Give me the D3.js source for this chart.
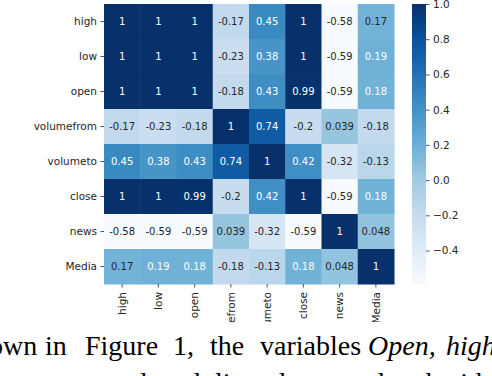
<!DOCTYPE html>
<html>
<head>
<meta charset="utf-8">
<script src="https://cdn.jsdelivr.net/npm/d3@7"></script>
<style>
  html, body { margin: 0; padding: 0; background: #fff; }
  svg { display: block; }
</style>
</head>
<body>
<svg id="chart" width="492" height="376"></svg>
<script>
// ---- data ----
const labels = ["high", "low", "open", "volumefrom", "volumeto", "close", "news", "Media"];
const rowHigh       = [1, 1, 1, -0.17, 0.45, 1, -0.58, 0.17];
const rowLow        = [1, 1, 1, -0.23, 0.38, 1, -0.59, 0.19];
const rowOpen       = [1, 1, 1, -0.18, 0.43, 0.99, -0.59, 0.18];
const rowVolumefrom = [-0.17, -0.23, -0.18, 1, 0.74, -0.2, 0.039, -0.18];
const rowVolumeto   = [0.45, 0.38, 0.43, 0.74, 1, 0.42, -0.32, -0.13];
const rowClose      = [1, 1, 0.99, -0.2, 0.42, 1, -0.59, 0.18];
const rowNews       = [-0.58, -0.59, -0.59, 0.039, -0.32, -0.59, 1, 0.048];
const rowMedia      = [0.17, 0.19, 0.18, -0.18, -0.13, 0.18, 0.048, 1];
const matrix = [rowHigh, rowLow, rowOpen, rowVolumefrom, rowVolumeto, rowClose, rowNews, rowMedia];
const colorbarTicks = [-0.4, -0.2, 0.0, 0.2, 0.4, 0.6, 0.8, 1.0];
const vmin = -0.59, vmax = 1;

// matplotlib "Blues" (ColorBrewer 9-class, linear segments)
const bluesStops = ["#f7fbff", "#deebf7", "#c6dbef", "#9ecae1", "#6baed6", "#4292c6", "#2171b5", "#08519c", "#08306b"];

// ---- setup ----
const svg = d3.select("#chart");
const font = "'DejaVu Sans', sans-serif";
const x = d3.scaleBand().domain(labels).range([104, 394]).padding(0);
const y = d3.scaleBand().domain(labels).range([4, 284]).padding(0);

const norm = d3.scaleLinear().domain([vmin, vmax]).range([0, 1]).clamp(true);
const cmap = d3.scaleLinear()
  .domain(bluesStops.map((_, i) => i / (bluesStops.length - 1)))
  .range(bluesStops)
  .interpolate(d3.interpolateRgb);
const color = v => cmap(norm(v));

function textColor(c) {
  const rgb = d3.rgb(c);
  const lin = [rgb.r, rgb.g, rgb.b].map(v => {
    v /= 255;
    return v <= 0.03928 ? v / 12.92 : Math.pow((v + 0.055) / 1.055, 2.4);
  });
  const lum = 0.2126 * lin[0] + 0.7152 * lin[1] + 0.0722 * lin[2];
  return lum > 0.408 ? "#262626" : "#ffffff";
}

const cells = [];
matrix.forEach((row, i) => row.forEach((v, j) => cells.push({ r: labels[i], c: labels[j], v })));

const defs = svg.append("defs");
defs.append("clipPath").attr("id", "chartClip")
  .append("rect").attr("x", 0).attr("y", 0).attr("width", 492).attr("height", 322);

const g = svg.append("g").attr("clip-path", "url(#chartClip)");

g.selectAll("rect.cell").data(cells).join("rect")
  .attr("class", "cell")
  .attr("x", d => x(d.c))
  .attr("y", d => y(d.r))
  .attr("width", x.bandwidth() + 0.5)
  .attr("height", y.bandwidth() + 0.5)
  .attr("fill", d => color(d.v));

const fmt = v => d3.format(".2~g")(v).replace("\u2212", "-");

g.selectAll("text.ann").data(cells).join("text")
  .attr("class", "ann")
  .attr("x", d => x(d.c) + x.bandwidth() / 2)
  .attr("y", d => y(d.r) + y.bandwidth() / 2)
  .attr("dy", "0.36em")
  .attr("text-anchor", "middle")
  .attr("font-family", font)
  .attr("font-size", 10)
  .attr("fill", d => textColor(color(d.v)))
  .text(d => fmt(d.v));

// y axis
const yAxis = g.append("g").attr("transform", "translate(104,0)")
  .call(d3.axisLeft(y).tickSize(3.5).tickPadding(3.5));
yAxis.select(".domain").remove();
yAxis.selectAll("line").attr("stroke", "#262626").attr("stroke-width", 0.8);
yAxis.selectAll("text").attr("font-family", font).attr("font-size", 10.5).attr("fill", "#262626");

// x axis
const xAxis = g.append("g").attr("transform", "translate(0,284)")
  .call(d3.axisBottom(x).tickSize(3.5).tickPadding(3.5));
xAxis.select(".domain").remove();
xAxis.selectAll("line").attr("stroke", "#262626").attr("stroke-width", 0.8);
xAxis.selectAll("text")
  .attr("font-family", font).attr("font-size", 10.5).attr("fill", "#262626")
  .attr("transform", "rotate(-90)")
  .attr("text-anchor", "end")
  .attr("x", -8)
  .attr("y", 0)
  .attr("dy", "0.35em");

// colorbar
const cbX = 412, cbW = 14;
const cbScale = d3.scaleLinear().domain([vmin, vmax]).range([284, 4]);
const grad = defs.append("linearGradient")
  .attr("id", "cbGrad").attr("x1", 0).attr("y1", 1).attr("x2", 0).attr("y2", 0);
d3.range(0, 1.0001, 0.02).forEach(t => {
  grad.append("stop").attr("offset", t).attr("stop-color", cmap(t));
});
svg.append("rect")
  .attr("x", cbX).attr("y", cbScale(vmax))
  .attr("width", cbW).attr("height", cbScale(vmin) - cbScale(vmax))
  .attr("fill", "url(#cbGrad)");
const cbAxis = svg.append("g").attr("transform", `translate(${cbX + cbW},0)`)
  .call(d3.axisRight(cbScale).tickValues(colorbarTicks).tickFormat(d3.format(".1f")).tickSize(3.5).tickPadding(3.5));
cbAxis.select(".domain").remove();
cbAxis.selectAll("line").attr("stroke", "#262626").attr("stroke-width", 0.8);
cbAxis.selectAll("text").attr("font-family", font).attr("font-size", 10.5).attr("fill", "#262626");

// paragraph text from the page below the figure
const serif = "'Liberation Serif', 'Times New Roman', serif";
const line1 = [
  { t: "own", x: -11 }, { t: "in", x: 45 }, { t: "Figure", x: 85 }, { t: "1,", x: 173 },
  { t: "the", x: 210 }, { t: "variables", x: 260 }, { t: "Open,", x: 368, it: true }, { t: "high", x: 446, it: true }
];
svg.selectAll("text.p1").data(line1).join("text")
  .attr("class", "p1")
  .attr("x", d => d.x).attr("y", 355)
  .attr("font-family", serif).attr("font-size", 28)
  .attr("font-style", d => d.it ? "italic" : "normal")
  .attr("fill", "#000")
  .text(d => d.t);
const line2 = [
  { t: "are", x: 20 }, { t: "strongly", x: 70 }, { t: "and", x: 160 }, { t: "linearly", x: 215 },
  { t: "correlated", x: 320 }, { t: "with", x: 440 }
];
svg.selectAll("text.p2").data(line2).join("text")
  .attr("class", "p2")
  .attr("x", d => d.x).attr("y", 392)
  .attr("font-family", serif).attr("font-size", 28)
  .attr("fill", "#000")
  .text(d => d.t);
</script>
</body>
</html>
